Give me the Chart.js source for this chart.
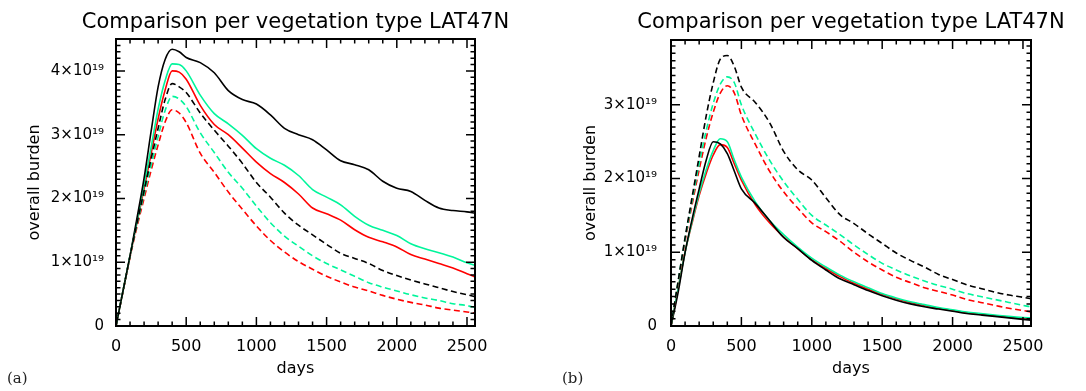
<!DOCTYPE html>
<html>
<head>
<meta charset="UTF-8">
<title>Comparison per vegetation type LAT47N</title>
<style>
  body { margin: 0; background: #fff; }
  .panel { position: absolute; top: 0; width: 543px; height: 391px; }
  .tag { position: absolute; top: 369px; font: 15px 'DejaVu Serif', serif; color: #222; }
</style>
</head>
<body>
<div class="panel" style="left:0"><canvas id="chartA" width="543" height="391"></canvas></div>
<div class="panel" style="left:543px"><canvas id="chartB" width="543" height="391"></canvas></div>
<span class="tag" style="left:7px">(a)</span>
<span class="tag" style="left:562px">(b)</span>
<script src="https://cdn.jsdelivr.net/npm/chart.js@4"></script>
<script>
// days since start (x values shared by every series)
var days = [0, 50, 100, 150, 200, 250, 300, 350, 400, 450, 500,
  600, 700, 800, 900, 1000, 1100, 1200, 1300, 1400, 1500, 1600, 1700, 1800, 1900,
  2000, 2100, 2200, 2300, 2400, 2500, 2557];

// panel (a), overall burden in units of 1e19
var blackSolidA = [0, 0.55, 1.1, 1.7, 2.32, 3.05, 3.75, 4.18, 4.34, 4.3, 4.21,
  4.13, 3.97, 3.69, 3.55, 3.48, 3.31, 3.10, 3.00, 2.92, 2.76, 2.59, 2.53, 2.45, 2.27,
  2.16, 2.11, 1.97, 1.85, 1.81, 1.79, 1.77];
var cyanSolidA = [0, 0.55, 1.1, 1.65, 2.22, 2.8, 3.4, 3.85, 4.11, 4.1, 4.0,
  3.62, 3.33, 3.17, 2.99, 2.78, 2.63, 2.52, 2.36, 2.14, 2.02, 1.90, 1.72, 1.58, 1.50,
  1.42, 1.29, 1.21, 1.15, 1.08, 0.99, 0.95];
var redSolidA = [0, 0.55, 1.1, 1.63, 2.15, 2.7, 3.25, 3.7, 4.0, 3.98, 3.87,
  3.46, 3.16, 3.0, 2.79, 2.57, 2.39, 2.25, 2.07, 1.85, 1.76, 1.66, 1.51, 1.39, 1.32,
  1.24, 1.12, 1.05, 0.98, 0.91, 0.82, 0.77];
var blackDashA = [0, 0.55, 1.1, 1.62, 2.12, 2.62, 3.1, 3.55, 3.8, 3.75, 3.66,
  3.34, 3.07, 2.82, 2.55, 2.25, 2.02, 1.77, 1.58, 1.43, 1.28, 1.14, 1.06, 0.98, 0.87,
  0.79, 0.72, 0.66, 0.60, 0.54, 0.49, 0.46];
var cyanDashA = [0, 0.55, 1.1, 1.6, 2.07, 2.52, 2.97, 3.38, 3.6, 3.56, 3.44,
  3.03, 2.72, 2.41, 2.16, 1.88, 1.62, 1.41, 1.25, 1.10, 0.98, 0.88, 0.78, 0.68, 0.61,
  0.55, 0.49, 0.44, 0.40, 0.35, 0.32, 0.29];
var redDashA = [0, 0.54, 1.08, 1.56, 2.0, 2.44, 2.84, 3.2, 3.39, 3.34, 3.19,
  2.71, 2.41, 2.1, 1.83, 1.57, 1.34, 1.16, 1.01, 0.89, 0.78, 0.69, 0.61, 0.55, 0.48,
  0.42, 0.37, 0.33, 0.28, 0.25, 0.22, 0.20];

// panel (b)
var blackSolidB = [0, 0.45, 1.0, 1.45, 1.86, 2.25, 2.5, 2.47, 2.34, 2.1, 1.86,
  1.66, 1.43, 1.2, 1.05, 0.89, 0.76, 0.64, 0.56, 0.48, 0.41, 0.35, 0.30, 0.26, 0.23,
  0.20, 0.17, 0.15, 0.13, 0.11, 0.09, 0.08];
var cyanSolidB = [0, 0.5, 1.0, 1.42, 1.8, 2.12, 2.38, 2.54, 2.5, 2.25, 2.02,
  1.68, 1.43, 1.24, 1.07, 0.92, 0.80, 0.69, 0.60, 0.52, 0.44, 0.38, 0.33, 0.29, 0.25,
  0.22, 0.19, 0.17, 0.15, 0.13, 0.115, 0.11];
var redSolidB = [0, 0.5, 1.0, 1.4, 1.77, 2.07, 2.32, 2.46, 2.42, 2.2, 1.98,
  1.64, 1.40, 1.21, 1.05, 0.90, 0.78, 0.67, 0.58, 0.50, 0.43, 0.37, 0.32, 0.28, 0.24,
  0.21, 0.18, 0.16, 0.14, 0.12, 0.10, 0.095];
var blackDashB = [0, 0.6, 1.2, 1.75, 2.3, 2.85, 3.3, 3.62, 3.67, 3.52, 3.24,
  3.03, 2.76, 2.37, 2.12, 1.98, 1.74, 1.51, 1.39, 1.25, 1.12, 0.99, 0.89, 0.80, 0.70,
  0.63, 0.56, 0.51, 0.46, 0.42, 0.39, 0.37];
var cyanDashB = [0, 0.6, 1.18, 1.7, 2.2, 2.65, 3.02, 3.28, 3.38, 3.3, 3.0,
  2.6, 2.25, 1.96, 1.72, 1.5, 1.37, 1.24, 1.10, 0.97, 0.85, 0.76, 0.68, 0.61, 0.55,
  0.50, 0.44, 0.40, 0.36, 0.32, 0.28, 0.26];
var redDashB = [0, 0.58, 1.15, 1.65, 2.12, 2.55, 2.9, 3.16, 3.26, 3.16, 2.86,
  2.46, 2.1, 1.82, 1.6, 1.4, 1.28, 1.15, 1.0, 0.87, 0.76, 0.66, 0.59, 0.52, 0.47,
  0.42, 0.36, 0.32, 0.28, 0.24, 0.21, 0.19];

var xMax = 2557;
var yMaxA = 4.5, yMaxB = 3.88;
var titleText = 'Comparison per vegetation type LAT47N';
var colors = ['#000000', '#00f59b', '#ff0000'];

Chart.defaults.font.family = "'DejaVu Sans', sans-serif";
Chart.defaults.color = '#000';

function lineSet(vals, color, dash) {
  return {
    data: days.map(function (d, i) { return { x: d, y: vals[i] }; }),
    borderColor: color,
    borderWidth: 1.6,
    borderDash: dash,
    pointRadius: 0,
    fill: false,
    cubicInterpolationMode: 'monotone'
  };
}

function makeSets(solid, dashed) {
  var sets = [];
  dashed.forEach(function (v, i) { sets.push(lineSet(v, colors[i], [6, 3.5])); });
  solid.forEach(function (v, i) { sets.push(lineSet(v, colors[i], [])); });
  return sets;
}

// IDL-style box with inward ticks on all four sides, plus the heading
var frame = {
  id: 'frame',
  afterDatasetsDraw: function (chart) {
    var ctx = chart.ctx, a = chart.chartArea;
    var xs = chart.scales.x, ys = chart.scales.y;
    ctx.save();
    ctx.strokeStyle = '#000';
    ctx.lineWidth = 1.5;
    ctx.beginPath();
    xs.ticks.forEach(function (t) {
      if (t.value <= xs.min || t.value >= xs.max) return;
      var p = xs.getPixelForValue(t.value);
      var len = t.value % 500 === 0 ? 9 : 4.5;
      ctx.moveTo(p, a.bottom); ctx.lineTo(p, a.bottom - len);
      ctx.moveTo(p, a.top); ctx.lineTo(p, a.top + len);
    });
    ys.ticks.forEach(function (t) {
      if (t.value <= ys.min || t.value >= ys.max) return;
      var p = ys.getPixelForValue(t.value);
      var len = Math.round(t.value * 10) % 10 === 0 ? 9 : 4.5;
      ctx.moveTo(a.left, p); ctx.lineTo(a.left + len, p);
      ctx.moveTo(a.right, p); ctx.lineTo(a.right - len, p);
    });
    ctx.stroke();
    ctx.lineWidth = 2;
    ctx.strokeRect(a.left, a.top, a.right - a.left, a.bottom - a.top);
    ctx.fillStyle = '#000';
    ctx.font = "21px 'DejaVu Sans', sans-serif";
    ctx.textAlign = 'center';
    ctx.textBaseline = 'middle';
    ctx.fillText(titleText, (a.left + a.right) / 2, 23);
    ctx.restore();
  }
};

function makeChart(id, sets, yMax, p) {
  return new Chart(document.getElementById(id), {
    type: 'line',
    data: { datasets: sets },
    options: {
      responsive: false,
      animation: false,
      layout: { padding: { left: 0, right: p.right, top: p.top, bottom: 0 } },
      plugins: { legend: { display: false }, tooltip: { enabled: false }, title: { display: false } },
      scales: {
        x: {
          type: 'linear', min: 0, max: xMax,
          grid: { display: false, drawTicks: false },
          border: { display: false },
          ticks: {
            stepSize: 100, includeBounds: false, autoSkip: false, maxRotation: 0, padding: 11,
            font: { size: 16 },
            callback: function (v) { return v % 500 === 0 ? String(v) : ''; }
          },
          title: { display: true, text: 'days', font: { size: 16 }, padding: { top: 0, bottom: 13 } },
          afterFit: function (s) { s.height = 65; }
        },
        y: {
          type: 'linear', min: 0, max: yMax,
          grid: { display: false, drawTicks: false },
          border: { display: false },
          ticks: {
            stepSize: 0.1, includeBounds: false, autoSkip: false, padding: p.tickPad,
            font: { size: 15 },
            callback: function (v) {
              var n = Math.round(v * 10);
              if (n % 10 !== 0) return '';
              return n === 0 ? '0' : (n / 10) + '×10¹⁹';
            }
          },
          title: { display: true, text: 'overall burden', font: { size: 16 }, padding: { top: p.titlePad, bottom: 0 } },
          afterFit: function (s) { s.width = p.yWidth; }
        }
      }
    },
    plugins: [frame]
  });
}

makeChart('chartA', makeSets([blackSolidA, cyanSolidA, redSolidA], [blackDashA, cyanDashA, redDashA]), yMaxA,
  { right: 68, top: 39, yWidth: 116, tickPad: 12, titlePad: 25 });
makeChart('chartB', makeSets([blackSolidB, cyanSolidB, redSolidB], [blackDashB, cyanDashB, redDashB]), yMaxB,
  { right: 55, top: 40, yWidth: 128, tickPad: 14, titlePad: 38 });
</script>
</body>
</html>
